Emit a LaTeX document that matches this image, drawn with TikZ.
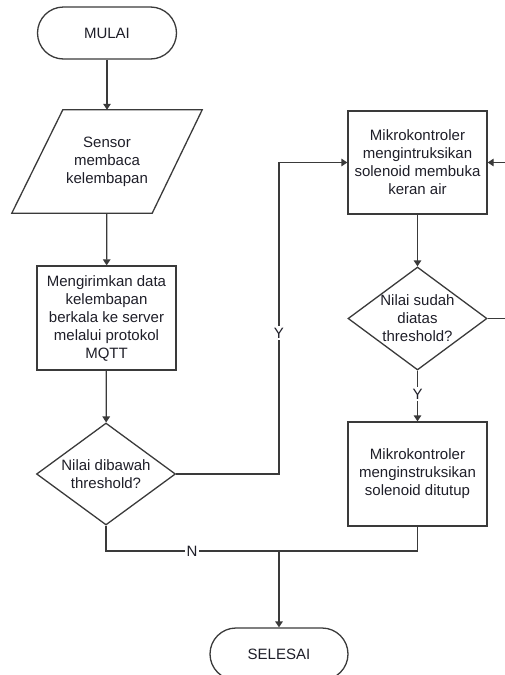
\documentclass[tikz,border=0pt]{standalone}
\usepackage{fontspec}
\setmainfont{Liberation Sans}
\usetikzlibrary{arrows.meta,shapes.geometric,calc}
\definecolor{ln}{HTML}{3A3A3A}
\definecolor{tx}{HTML}{1E1E28}
\begin{document}
\begin{tikzpicture}[x=1pt,y=-1pt,
  every node/.style={text=tx,font=\fontsize{15}{18}\selectfont,align=center,inner sep=0pt},
  term/.style={draw=ln,line width=1.3pt,rectangle,rounded corners=26pt,minimum width=139pt,minimum height=52pt},
  proc/.style={draw=ln,line width=1.3pt,rectangle,minimum width=139pt,minimum height=103pt},
  dec/.style={draw=ln,line width=1.3pt,diamond,minimum width=139pt,minimum height=102pt},
  conn/.style={draw=ln,line width=1.3pt},
  arr/.style={conn,-{Triangle[length=6pt,width=7.5pt]}},
  lbl/.style={fill=white,inner sep=1.5pt}]
\useasboundingbox (0,0) rectangle (505,675);
\clip (0,0) rectangle (505,675);

\node[term] (start) at (107,33) {MULAI};
\node[minimum width=190pt,minimum height=103pt] (sensor) at (107,161.5) {Sensor\\membaca\\kelembapan};
\draw[draw=ln,line width=1.3pt] ($(sensor.north west)+(51,0)$) -- (sensor.north east) -- ($(sensor.south east)+(-50,0)$) -- (sensor.south west) -- cycle;
\node[proc,minimum height=104pt] (send) at (106.5,318) {Mengirimkan data\\kelembapan\\berkala ke server\\melalui protokol\\MQTT};
\node[dec] (d1) at (106,474) {};
\node (d1t) at (106,474) {Nilai dibawah\\threshold?};
\node[proc] (open) at (417.5,162.5) {Mikrokontroler\\mengintruksikan\\solenoid membuka\\keran air};
\node[dec,minimum height=103pt] (d2) at (417.5,318.5) {};
\node (d2t) at (417.5,318.5) {Nilai sudah\\diatas\\threshold?};
\node[proc,minimum height=104pt] (close) at (417.5,474) {Mikrokontroler\\menginstruksikan\\solenoid ditutup};
\node[term,minimum width=138pt] (end) at (279,654) {SELESAI};

\coordinate (c1) at (279,474);
\coordinate (jn) at (279,551);
\coordinate (nl) at (106,551);
\coordinate (nr) at (417.5,551);
\coordinate (rr) at (520,318.5);
\coordinate (ru) at (520,162.5);

\draw[arr] (start) -- (sensor);
\draw[arr] (sensor) -- (send);
\draw[arr] (send) -- (d1);
\draw[arr] (d1.east) -- (c1) |- (open.west);
\node[lbl] (y1) at (279,333) {Y};
\draw[arr] (open) -- (d2);
\draw[arr] (d2) -- (close);
\node[lbl] (y2) at (417.5,394) {Y};
\draw[arr] (d2.east) -- (rr) -- (ru) -- (open.east);
\draw[conn] (d1.south) -- (nl) -- (nr) -- (close.south);
\node[lbl] (n1) at (192,551) {N};
\draw[arr] (jn) -- (end);
\draw[draw=ln,line width=2.2pt] (jn) -- ++(24,0);
\end{tikzpicture}
\end{document}
